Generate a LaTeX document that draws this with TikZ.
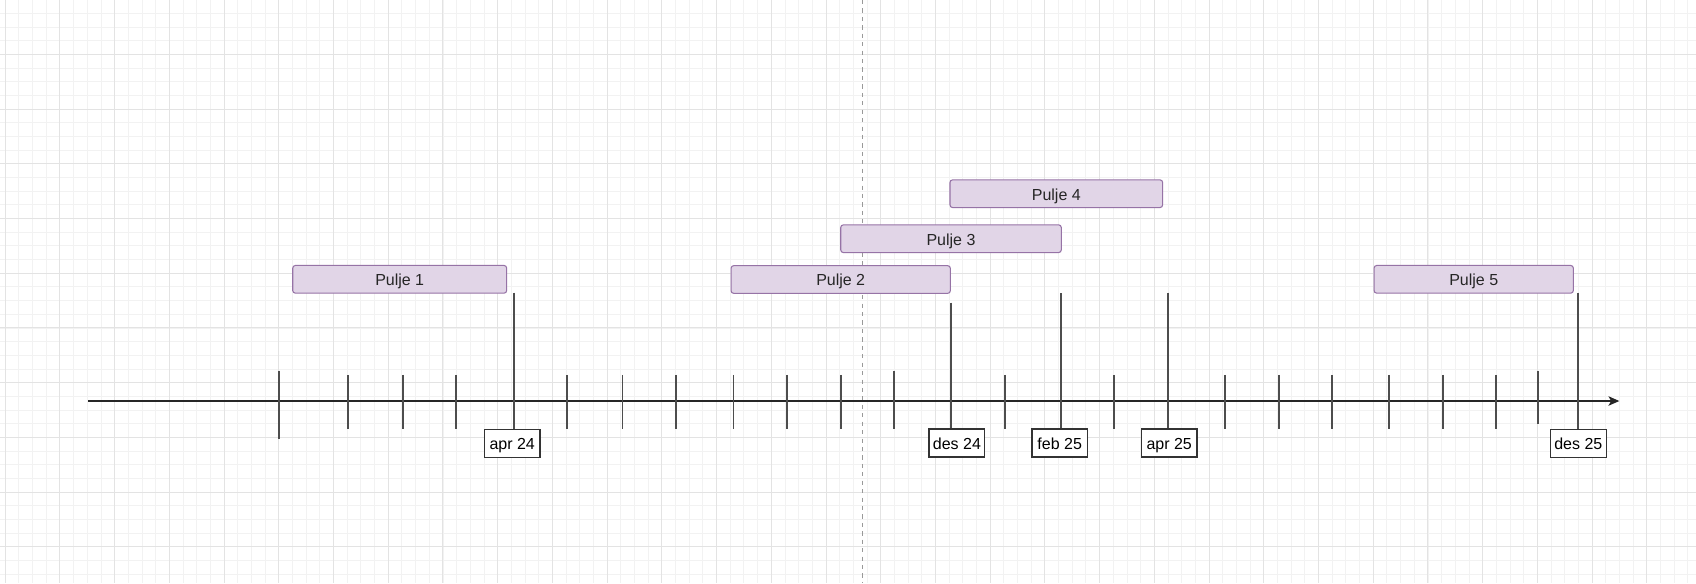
\documentclass[tikz,border=0pt]{standalone}
\usepackage{fontspec}
\setmainfont{Liberation Sans}
\usepackage{xcolor}
\usepackage{tikz}
\usetikzlibrary{arrows.meta, positioning}

\definecolor{puljefill}{HTML}{E1D5E7}
\definecolor{puljedraw}{HTML}{9673A6}
\definecolor{minorline}{HTML}{F2F2F2}
\definecolor{majorline}{HTML}{E3E3E3}
\definecolor{tickgray}{HTML}{4D4D4D}

\begin{document}
\begin{tikzpicture}[
    x=0.02cm, y=-0.02cm,
    font=\fontsize{9.1}{11}\selectfont,
    minorgrid/.style={draw=minorline, line width=0.5pt},
    majorgrid/.style={draw=majorline, line width=0.55pt},
    pulje/.style={rectangle, draw=puljedraw, fill=puljefill, line width=0.6pt, rounded corners=1.5pt, text=black!85, inner sep=0pt, text height=1.38ex, text depth=0pt, minimum height=0.554cm},
    datebox/.style={rectangle, draw=black!80, fill=white, line width=0.75pt, inner sep=0pt, text height=1.38ex, text depth=0pt, minimum width=1.114cm, minimum height=0.56cm},
    tick/.style={draw=tickgray, line width=0.95pt},
    arrow/.style={-{Stealth[length=6.2pt, width=5.4pt, inset=1.6pt]}, draw=black!85, line width=0.75pt}
]

\useasboundingbox[fill=white] (0,0) rectangle (1696,583);

% Grid
\foreach \i in {0,...,123}
    \draw[minorgrid] ({5.2+13.68*\i},0) -- ({5.2+13.68*\i},583);
\foreach \i in {0,...,41}
    \draw[minorgrid] (0,{13.3+13.68*\i}) -- (1696,{13.3+13.68*\i});
\foreach \i in {0,...,30}
    \draw[majorgrid] ({5.2+54.72*\i},0) -- ({5.2+54.72*\i},583);
\foreach \i in {0,...,9}
    \draw[majorgrid] (0,{54.3+54.72*\i}) -- (1696,{54.3+54.72*\i});

% Page break
\draw[black!40, line width=0.5pt, dash pattern=on 2.4pt off 2.4pt] (862.7,0) -- (862.7,583);

% Pools
\node[pulje, minimum width=4.28cm] (p1) at (399.7,279.3) {Pulje 1};
\node[pulje, minimum width=4.386cm] (p2) at (840.7,279.5) {Pulje 2};
\node[pulje, minimum width=4.412cm] (p3) at (951,238.7) {Pulje 3};
\node[pulje, minimum width=4.254cm] (p4) at (1056.3,193.7) {Pulje 4};
\node[pulje, minimum width=3.986cm] (p5) at (1473.7,279.3) {Pulje 5};

% Axis
\coordinate (start) at (88.3,401);
\coordinate (end) at (1619.3,401);
\draw[arrow] (start) -- (end);

% Month ticks
\draw[tick] (279.3,370.7) -- (279.3,439);
\foreach \x in {347.7,402.7,456,566.8,622.5,676,733.5,787.3,840.7,1005,1114.2,1225.3,1278.7,1332,1389.3,1442.7,1496}
    \draw[tick] (\x,374.8) -- (\x,429.3);
\draw[tick] (894,370.7) -- (894,429.3);
\draw[tick] (1538,370.7) -- (1538,424);

% Dates
\node[datebox] (apr24) at (512.2,443.3) {apr 24};
\node[datebox] (des24) at (956.9,443) {des 24};
\node[datebox] (feb25) at (1059.7,443) {feb 25};
\node[datebox] (apr25) at (1169.2,443) {apr 25};
\node[datebox] (des25) at (1578.3,443.2) {des 25};

\coordinate (apr24top) at (514,292.7);
\coordinate (des24top) at (951.3,302.7);
\coordinate (feb25top) at (1061,293.3);
\coordinate (apr25top) at (1168.3,292.7);
\coordinate (des25top) at (1578.3,292.7);

\draw[tick] (apr24top) -- (apr24top |- apr24.north);
\draw[tick] (des24top) -- (des24top |- des24.north);
\draw[tick] (feb25top) -- (feb25top |- feb25.north);
\draw[tick] (apr25top) -- (apr25top |- apr25.north);
\draw[tick] (des25top) -- (des25top |- des25.north);

\end{tikzpicture}
\end{document}
